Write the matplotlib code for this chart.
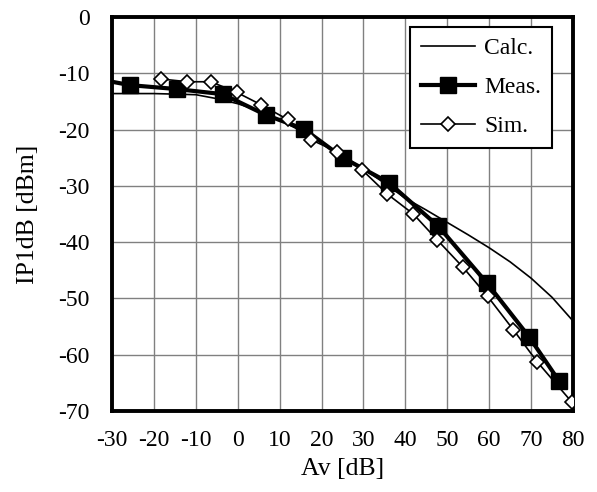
import matplotlib
matplotlib.use('Agg')
import matplotlib.pyplot as plt

plt.rcParams['font.family'] = ['Liberation Serif', 'DejaVu Serif']
plt.rcParams['axes.unicode_minus'] = False

# Calc. (thin line)
calc_av = [-30, -20, -10, -5, 0, 5, 10, 15, 20, 25, 30, 35, 40, 45, 50, 55, 60, 65, 70, 75, 80]
calc_ip = [-13.6, -13.6, -13.8, -14.5, -15.4, -16.6, -18.3, -20.2, -22.3, -24.6, -27.0,
           -29.5, -32.2, -34.3, -36.5, -38.7, -41.0, -43.5, -46.4, -49.8, -54.0]

# Meas. (filled squares); first point is the line start at the axis, no marker
meas_av = [-30, -25.7, -14.6, -3.6, 6.7, 15.8, 25.1, 36.0, 47.9, 59.4, 69.5, 76.7]
meas_ip = [-11.5, -12.1, -12.8, -13.7, -17.4, -19.9, -25.0, -29.4, -37.2, -47.2, -56.8, -64.7]

# Sim. (open diamonds)
sim_av = [-18.4, -12.0, -6.4, -0.2, 5.6, 11.9, 17.5, 23.6, 29.6, 35.6, 41.9, 47.6,
          53.8, 59.6, 65.8, 71.5, 79.7]
sim_ip = [-11.0, -11.5, -11.5, -13.4, -15.6, -18.2, -21.8, -23.9, -27.1, -31.4, -35.0,
          -39.6, -44.5, -49.6, -55.6, -61.3, -68.4]

fig = plt.figure(figsize=(5.97, 4.92), dpi=100)
ax = fig.add_axes([0.1876, 0.1646, 0.7722, 0.8008])

ax.plot(calc_av, calc_ip, color='black', lw=1.2, label='Calc.', zorder=3)
ax.plot(meas_av, meas_ip, color='black', lw=3, marker='s', markersize=11,
        markevery=list(range(1, len(meas_av))), label='Meas.', zorder=4)
ax.plot(sim_av, sim_ip, color='black', lw=1.2, marker='D', markersize=7,
        markerfacecolor='white', markeredgewidth=1.2, label='Sim.', zorder=5)

ax.set_xlim(-30, 80)
ax.set_ylim(-70, 0)
ax.set_xticks(range(-30, 81, 10))
ax.set_yticks(range(-70, 1, 10))
ax.grid(True, color='#808080', lw=1)
ax.set_axisbelow(True)
ax.tick_params(length=0, labelsize=17)
ax.tick_params(axis='x', pad=14)
ax.tick_params(axis='y', pad=16)
for s in ax.spines.values():
    s.set_linewidth(2.8)

ax.set_xlabel('Av [dB]', fontsize=18.5, labelpad=5)
ax.set_ylabel('IP1dB [dBm]', fontsize=18.5, labelpad=14)

leg = ax.legend(loc='upper right', fontsize=17, fancybox=False, framealpha=1,
                edgecolor='black', borderpad=0.45, labelspacing=0.75,
                handlelength=2.3, handletextpad=0.4, borderaxespad=0,
                bbox_to_anchor=(0.954, 0.975))
leg.get_frame().set_linewidth(1.5)

fig.savefig('out.png', dpi=100)
